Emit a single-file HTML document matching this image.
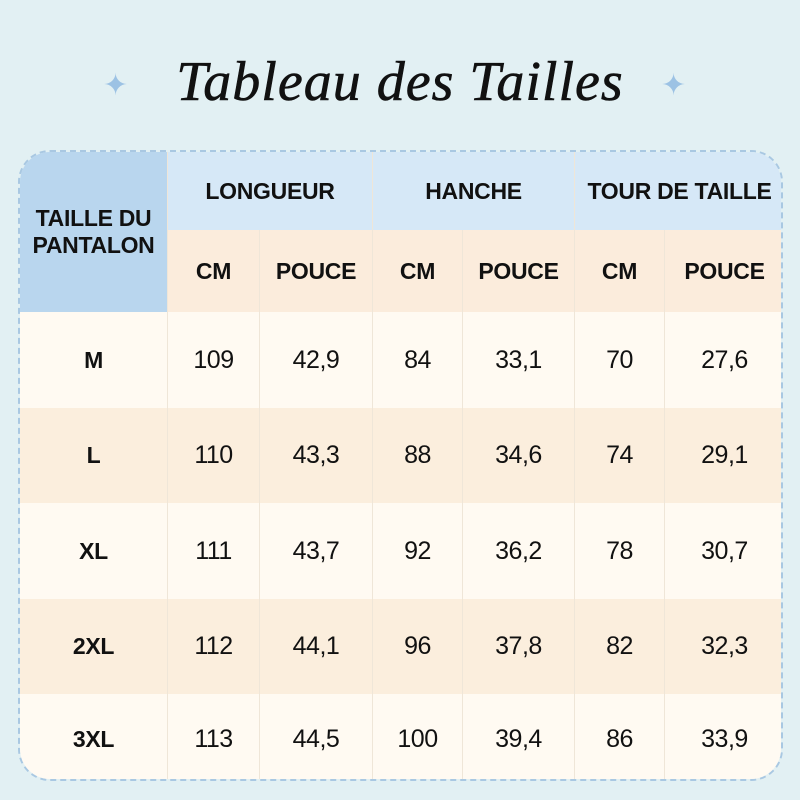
<!DOCTYPE html>
<html><head><meta charset="utf-8"><style>
body{margin:0;width:800px;height:800px;background:#e2f0f3;position:relative;overflow:hidden;font-family:"Liberation Sans",sans-serif}
.title{position:absolute;top:50px;left:0;width:800px;text-align:center;font-family:"Liberation Serif",serif;font-style:italic;font-size:56px;color:#111;letter-spacing:1px;-webkit-text-stroke:0.6px #111}
.star{position:absolute;top:68px;color:#9cc2e4;font-size:30px}
.tbl{position:absolute;left:18px;top:150px;width:765px;height:631px;border-radius:32px;overflow:hidden;border:2px dashed #a9c8e2;box-sizing:border-box}
.c{position:absolute;display:flex;align-items:center;justify-content:center;text-align:center;box-sizing:border-box;border-right:1px solid #efe6d8}
.h{font-weight:bold;font-size:23px;color:#111;letter-spacing:-0.3px}
.d{font-size:25px;color:#111;letter-spacing:-0.5px}
</style></head><body>
<div class="title">Tableau des Tailles</div>
<div class="star" style="left:103px">✦</div>
<div class="star" style="left:661px">✦</div>
<div class="tbl" id="t"></div>
<script>
const t=document.getElementById('t');
const X=[0,148,240,353,443,555,645,765];
function cell(x,y,w,h,txt,bg,cls){const d=document.createElement('div');d.className='c '+cls;d.style.cssText=`left:${x}px;top:${y}px;width:${w}px;height:${h}px;background:${bg}`;d.innerHTML=txt;t.appendChild(d);}
cell(0,0,148,160,'TAILLE DU<br>PANTALON','#b9d6ee','h');
['LONGUEUR','HANCHE','TOUR DE TAILLE'].forEach((s,i)=>cell(X[1+2*i],0,X[3+2*i]-X[1+2*i],78,s,'#d6e8f7','h'));
for(let i=1;i<7;i++)cell(X[i],78,X[i+1]-X[i],82,i%2?'CM':'POUCE','#fbecdc','h');
const rows=[['M',109,'42,9',84,'33,1',70,'27,6'],['L',110,'43,3',88,'34,6',74,'29,1'],['XL',111,'43,7',92,'36,2',78,'30,7'],['2XL',112,'44,1',96,'37,8',82,'32,3'],['3XL',113,'44,5',100,'39,4',86,'33,9']];
const RY=[160,256,351,447,542,633];
rows.forEach((r,j)=>{const bg=j%2?'#fbeedd':'#fffaf2';r.forEach((v,i)=>cell(X[i],RY[j],X[i+1]-X[i],RY[j+1]-RY[j],v,bg,i?'d':'h'));});
</script>
</body></html>
